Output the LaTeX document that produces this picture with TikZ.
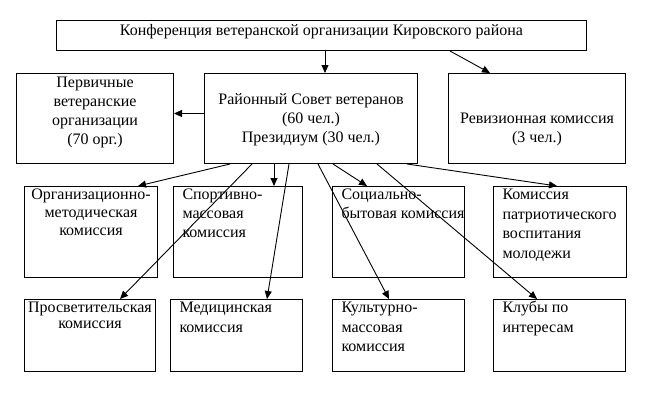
\documentclass[tikz,border=0pt]{standalone}
\usepackage{fontspec}
\setmainfont{Liberation Serif}
\usetikzlibrary{arrows.meta}
\newcommand{\bx}[6]{\parbox[c][#2pt][t]{#1pt}{\fontsize{16}{#4}\selectfont #5\vspace*{#3pt}\rule{0pt}{12pt}#6\par}}
\newcommand{\lft}{\raggedright\leftskip=9pt\relax}
\begin{document}
\begin{tikzpicture}[x=1pt,y=-1pt,line width=1pt,
  box/.style={draw, rectangle, inner sep=0pt, anchor=north west},
  arr/.style={-{Triangle[length=8pt,width=7pt]}, line width=0.9pt}]
\useasboundingbox (0,0) rectangle (658,407);
\node[box] (top) at (56,20) {\bx{530}{30}{3}{19}{\centering}{Конференция ветеранской организации Кировского района}};
\node[box] (left) at (16,73) {\bx{157}{90}{2}{19}{\centering}{Первичные\\ветеранские\\организации\\(70 орг.)}};
\node[box] (mid) at (204,73) {\bx{213}{90}{19}{19}{\centering}{Районный Совет ветеранов\\(60 чел.)\\Президиум (30 чел.)}};
\node[box] (right) at (448,73) {\bx{177}{90}{38}{19}{\centering}{Ревизионная комиссия\\(3 чел.)}};
\node[box] (b1) at (24,186) {\bx{133}{91}{1}{18}{\centering}{Организационно-\\методическая\\комиссия}};
\node[box] (b2) at (173,186) {\bx{129}{91}{1}{19}{\lft}{Спортивно-\\массовая\\комиссия}};
\node[box] (b3) at (332,186) {\bx{132}{91}{1}{19}{\lft}{Социально-\\бытовая комиссия}};
\node[box] (b4) at (493,186) {\bx{133}{91}{1}{19.5}{\lft}{Комиссия\\патриотического\\воспитания\\молодежи}};
\node[box] (c1) at (24,299) {\bx{131}{72}{1}{16}{\centering}{Просветительская\\комиссия}};
\node[box] (c2) at (170,299) {\bx{132}{72}{1}{20}{\lft}{Медицинская\\комиссия}};
\node[box] (c3) at (332,299) {\bx{132}{72}{1}{19.5}{\lft}{Культурно-\\массовая\\комиссия}};
\node[box] (c4) at (493,299) {\bx{132}{72}{1}{20}{\lft}{Клубы по\\интересам}};
\draw[arr] ([xshift=269pt]top.south west) -- ([xshift=121pt]mid.north west);
\draw[arr] ([xshift=394pt]top.south west) -- ([xshift=42pt]right.north west);
\draw[arr] ([yshift=5pt]mid.west) -- ([yshift=5pt]left.east);
\draw[arr] ([xshift=26pt]mid.south west) -- ([xshift=114pt]b1.north west);
\draw[arr] ([xshift=48pt]mid.south west) -- ([xshift=96pt]c1.north west);
\draw[arr] ([xshift=70pt]mid.south west) -- ([xshift=101pt]b2.north west);
\draw[arr] ([xshift=85pt]mid.south west) -- ([xshift=97pt]c2.north west);
\draw[arr] ([xshift=114pt]mid.south west) -- ([xshift=57pt]c3.north west);
\draw[arr] ([xshift=129pt]mid.south west) -- ([xshift=35pt]b3.north west);
\draw[arr] ([xshift=173pt]mid.south west) -- ([xshift=44pt]c4.north west);
\draw[arr] ([xshift=203pt]mid.south west) -- ([xshift=64pt]b4.north west);
\end{tikzpicture}
\end{document}
